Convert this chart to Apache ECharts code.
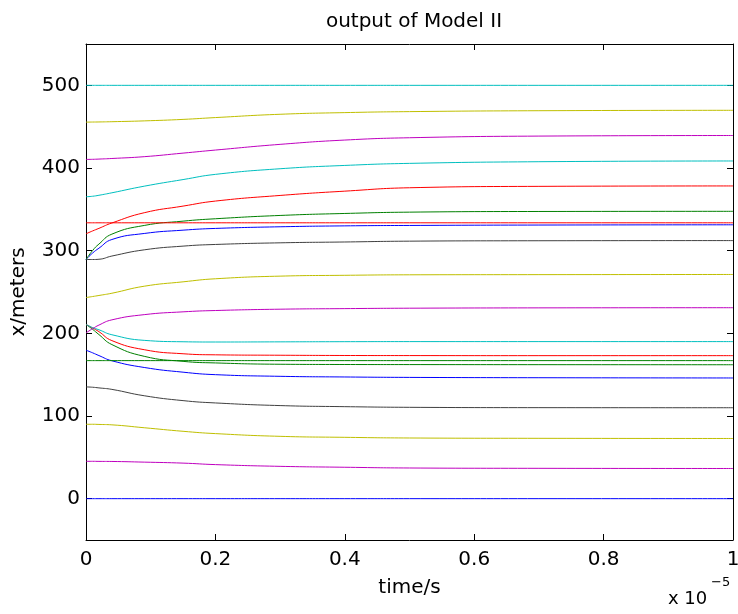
<!DOCTYPE html>
<html>
<head>
<meta charset="utf-8">
<script src="https://cdn.jsdelivr.net/npm/echarts@6/dist/echarts.min.js"></script>
<style>
  html, body { margin: 0; padding: 0; background: #fff; }
  #chart { width: 738px; height: 614px; }
</style>
</head>
<body>
<div id="chart"></div>
<script>
// Sample times, in units of 1e-5 s
const timeSamples = [0, 0.01, 0.02, 0.04, 0.09, 0.15, 0.2, 0.3, 0.4, 0.5, 0.7, 1.0];

// Positions (m) of each vehicle at the sample times
const pos500 = [500, 500, 500, 500, 500, 500, 500, 500, 500, 500, 500, 500];
const pos455 = [455.5, 455.6, 455.7, 456, 457, 458.8, 461, 465, 467, 468.2, 469.3, 469.8];
const pos410 = [410.4, 410.5, 410.8, 411.5, 413.7, 418, 421.7, 428.6, 433.8, 436.6, 438.6, 439.3];
const pos365 = [365.2, 365.8, 367, 370, 378, 386, 392.3, 399.1, 403.1, 405.6, 407.6, 408.5];
const pos320 = [320.4, 323.8, 327, 333.5, 345.9, 353.9, 360, 366.8, 372, 376.1, 377.8, 378.3];
const pos333 = [333.7, 333.7, 333.7, 333.7, 333.7, 333.7, 333.7, 333.7, 333.7, 333.7, 333.7, 333.7];
const pos289g = [289.3, 300, 308, 320, 330.5, 335.7, 338.6, 342.6, 345, 346.6, 347.4, 347.6];
const pos289b = [289.3, 297, 303, 313.5, 320.8, 324.8, 326.9, 328.9, 330, 330.5, 331, 331.3];
const pos289k = [289.3, 289.3, 289.6, 293.5, 301, 305.5, 307.5, 309.5, 310.5, 311.5, 312, 312.2];
const pos243 = [243.3, 244.5, 245.8, 248.5, 257, 262.3, 266, 269.2, 270.2, 270.8, 271, 271.2];
const pos200 = [200.6, 205.5, 210, 216.3, 222.6, 226, 227.6, 229.2, 229.9, 230.4, 230.8, 231];
const pos210c = [210.7, 207, 204.3, 198.3, 191.5, 189.8, 189.5, 189.7, 189.9, 190, 190, 190];
const pos210r = [210.7, 206.5, 202, 191.2, 180.2, 175.3, 174, 173.5, 173.2, 173.1, 173, 173];
const pos167 = [167, 167, 167, 167, 167, 167, 167, 167, 167, 167, 167, 167];
const pos210g = [210.7, 205, 198.5, 186.4, 172.2, 166.1, 164.2, 162.6, 162.3, 162.2, 162.1, 162];
const pos180 = [179.6, 176.5, 173.1, 166.8, 158.7, 153, 150, 148, 147.2, 146.7, 146.3, 146];
const pos135 = [135.2, 134.8, 134, 132.2, 124.5, 118.6, 115.8, 112.6, 111.3, 110.5, 110.1, 110];
const pos90 = [90, 90, 89.8, 89.3, 85.8, 81.5, 78.7, 75.4, 74.2, 73.4, 73, 72.8];
const pos45 = [45.2, 45.2, 45.1, 45, 44.2, 43, 41.2, 39.1, 38, 37.1, 36.7, 36.5];
const pos0 = [0, 0, 0, 0, 0, 0, 0, 0, 0, 0, 0, 0];

const xTicks = [0, 0.2, 0.4, 0.6, 0.8, 1];
const yTicks = [0, 100, 200, 300, 400, 500];

// MATLAB-style line colours
const C = { b: '#0000ff', g: '#008000', r: '#ff0000', c: '#00bfbf', m: '#bf00bf', y: '#bfbf00', k: '#404040' };

const traces = [
  [pos0, C.b], [pos45, C.m], [pos90, C.y], [pos135, C.k], [pos180, C.b],
  [pos210g, C.g], [pos167, C.g], [pos210r, C.r], [pos210c, C.c], [pos200, C.m],
  [pos243, C.y], [pos289k, C.k], [pos289b, C.b], [pos289g, C.g], [pos333, C.r],
  [pos320, C.r], [pos365, C.c], [pos410, C.m], [pos455, C.y], [pos500, C.c]
];

const FONT = '"DejaVu Sans", sans-serif';

const series = traces.map(([vals, color]) => ({
  type: 'line',
  data: timeSamples.map((t, i) => [t, vals[i]]),
  showSymbol: false,
  smooth: 0.5,
  lineStyle: { color: color, width: 1 },
  itemStyle: { color: color },
  silent: true,
  animation: false
}));

const tickStyle = { show: true, inside: true, length: 6, lineStyle: { color: '#000', width: 1 } };
const lineStyle = { show: true, onZero: false, lineStyle: { color: '#000', width: 1 } };

const chart = echarts.init(document.getElementById('chart'));
chart.setOption({
  animation: false,
  backgroundColor: '#fff',
  title: {
    text: 'output of Model II',
    left: 409,
    top: 7,
    textAlign: 'center',
    textStyle: { fontFamily: FONT, fontSize: 20, fontWeight: 'normal', color: '#000' }
  },
  grid: { left: 86, right: 5, top: 44, bottom: 74, containLabel: false, outerBoundsMode: 'none' },
  xAxis: [
    {
      type: 'value', position: 'bottom', min: 0, max: 1, interval: 0.2,
      axisLine: lineStyle, axisTick: tickStyle, splitLine: { show: false },
      axisLabel: { fontFamily: FONT, fontSize: 20, color: '#000', margin: 10,
        customValues: xTicks, formatter: v => String(+v.toFixed(1)) },
      name: 'time/s', nameLocation: 'middle', nameGap: 38,
      nameTextStyle: { fontFamily: FONT, fontSize: 20, color: '#000' }
    },
    {
      type: 'value', position: 'top', min: 0, max: 1, interval: 0.2,
      axisLine: lineStyle, axisTick: tickStyle, splitLine: { show: false },
      axisLabel: { show: false }
    }
  ],
  yAxis: [
    {
      type: 'value', position: 'left', min: -50, max: 550,
      axisLine: lineStyle,
      axisTick: Object.assign({ customValues: yTicks }, tickStyle),
      splitLine: { show: false },
      axisLabel: { fontFamily: FONT, fontSize: 20, color: '#000', margin: 6, customValues: yTicks },
      name: 'x/meters', nameLocation: 'middle', nameRotate: 90, nameGap: 57,
      nameTextStyle: { fontFamily: FONT, fontSize: 20, color: '#000' }
    },
    {
      type: 'value', position: 'right', min: -50, max: 550,
      axisLine: lineStyle,
      axisTick: Object.assign({ customValues: yTicks }, tickStyle),
      splitLine: { show: false },
      axisLabel: { show: false }
    }
  ],
  graphic: [
    {
      type: 'text', x: 668, y: 599, silent: true,
      style: { text: 'x 10', font: '18px ' + FONT, fill: '#000', align: 'left', verticalAlign: 'middle' }
    },
    {
      type: 'text', x: 711, y: 583, silent: true,
      style: { text: '\u22125', font: '13px ' + FONT, fill: '#000', align: 'left', verticalAlign: 'middle' }
    }
  ],
  series: series
});
</script>
</body>
</html>
